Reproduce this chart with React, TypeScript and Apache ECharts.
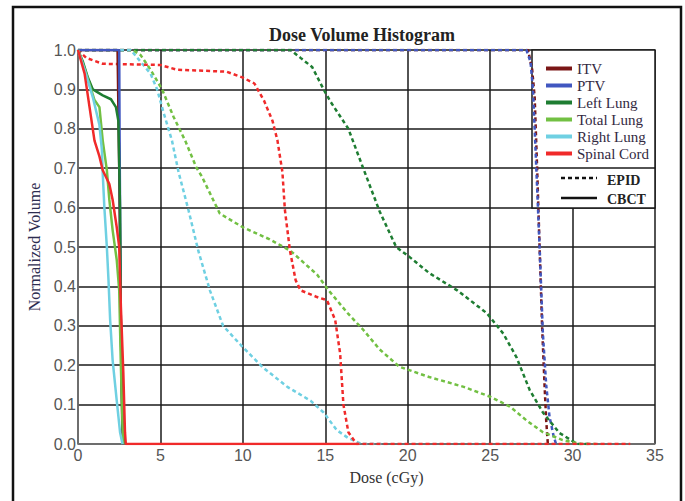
import React, { useEffect, useRef } from "react";
import * as echarts from "echarts";

const structures = ["ITV", "PTV", "Left Lung", "Total Lung", "Right Lung", "Spinal Cord"];
const structureColors = ["#7a1616", "#4157c0", "#1e7d32", "#72c043", "#6fd0e2", "#f02a2a"];
const methods = ["EPID", "CBCT"];

const xTicks = [0, 5, 10, 15, 20, 25, 30, 35];
const yTicks = [0, 0.1, 0.2, 0.3, 0.4, 0.5, 0.6, 0.7, 0.8, 0.9, 1.0];

// EPID (dotted) curves: [dose cGy, normalized volume]
const itvEpid = [[0, 1], [27.3, 1], [27.55, 0.95], [27.7, 0.88], [27.85, 0.7], [28.0, 0.5], [28.15, 0.3], [28.3, 0.15], [28.4, 0.06], [28.5, 0]];
const ptvEpid = [[0, 1], [27.2, 1], [27.45, 0.97], [27.6, 0.9], [27.8, 0.7], [28.0, 0.5], [28.2, 0.28], [28.4, 0.15], [28.6, 0.07], [28.85, 0.02], [29.0, 0]];
const leftLungEpid = [[0, 1], [12.9, 1], [13.5, 0.98], [14.2, 0.957], [14.9, 0.9], [15.3, 0.87], [16.4, 0.8], [17.3, 0.7], [18.3, 0.59], [19.3, 0.5], [20.1, 0.475], [21.3, 0.434], [23.0, 0.39], [24.8, 0.332], [25.8, 0.28], [26.6, 0.22], [27.4, 0.137], [28.2, 0.08], [29.2, 0.028], [30.3, 0], [31, 0]];
const totalLungEpid = [[0, 1], [3.3, 1], [3.8, 0.987], [4.4, 0.95], [5.1, 0.9], [5.8, 0.83], [6.5, 0.77], [7.2, 0.7], [7.5, 0.68], [8.6, 0.585], [10.0, 0.55], [11.6, 0.52], [12.9, 0.49], [14.5, 0.43], [15.2, 0.39], [16.4, 0.33], [17.3, 0.29], [18.3, 0.24], [19.5, 0.196], [21.3, 0.17], [23.4, 0.145], [25.0, 0.12], [26.2, 0.095], [27.2, 0.06], [28.2, 0.03], [29.4, 0.01], [30.5, 0], [31.4, 0]];
const rightLungEpid = [[0, 1], [3.2, 1], [3.6, 0.98], [4.4, 0.94], [4.8, 0.9], [5.2, 0.84], [5.7, 0.77], [6.1, 0.69], [6.7, 0.594], [7.3, 0.49], [8.0, 0.39], [8.8, 0.3], [9.9, 0.25], [11.2, 0.195], [12.7, 0.145], [14.1, 0.11], [14.9, 0.08], [15.7, 0.035], [16.4, 0.015], [17.2, 0], [18.4, 0]];
const spinalCordEpid = [[0, 1], [0.5, 0.98], [1.5, 0.965], [5, 0.962], [6, 0.95], [9, 0.945], [10, 0.93], [10.7, 0.915], [11.3, 0.87], [11.8, 0.82], [12.1, 0.77], [12.4, 0.69], [12.55, 0.594], [12.86, 0.49], [13.2, 0.416], [13.5, 0.39], [14.5, 0.373], [15.1, 0.365], [15.6, 0.315], [15.9, 0.23], [16.1, 0.1], [16.4, 0.03], [16.9, 0], [33.5, 0]];

// CBCT (solid) curves
const itvCbct = [[0, 1], [2.4, 1], [2.5, 0.7], [2.6, 0.3], [2.7, 0]];
const ptvCbct = [[0, 1], [2.5, 1], [2.52, 0.8], [2.55, 0.6], [2.6, 0.3], [2.7, 0.05], [2.75, 0]];
const leftLungCbct = [[0, 1], [0.3, 0.97], [0.6, 0.93], [0.9, 0.9], [1.5, 0.885], [2.0, 0.875], [2.3, 0.855], [2.45, 0.82], [2.55, 0.6], [2.6, 0.3], [2.7, 0.05], [2.8, 0]];
const totalLungCbct = [[0, 1], [0.5, 0.94], [1.0, 0.873], [1.3, 0.855], [1.5, 0.77], [1.75, 0.695], [1.9, 0.62], [2.1, 0.543], [2.35, 0.467], [2.5, 0.39], [2.6, 0.2], [2.7, 0.05], [2.75, 0]];
const rightLungCbct = [[0, 1], [0.4, 0.95], [0.9, 0.88], [1.3, 0.81], [1.45, 0.746], [1.5, 0.687], [1.6, 0.6], [1.75, 0.5], [1.85, 0.416], [1.95, 0.315], [2.1, 0.213], [2.35, 0.11], [2.55, 0.03], [2.7, 0]];
const spinalCordCbct = [[0, 1], [0.4, 0.94], [0.7, 0.855], [1.0, 0.77], [1.3, 0.73], [1.5, 0.695], [1.9, 0.66], [2.1, 0.62], [2.35, 0.55], [2.5, 0.5], [2.6, 0.35], [2.75, 0.18], [2.85, 0.03], [2.9, 0], [17, 0]];

const epidData = [itvEpid, ptvEpid, leftLungEpid, totalLungEpid, rightLungEpid, spinalCordEpid];
const cbctData = [itvCbct, ptvCbct, leftLungCbct, totalLungCbct, rightLungCbct, spinalCordCbct];

const SERIF = "'Liberation Serif', 'Times New Roman', serif";
const SANS = "'Liberation Sans', Arial, sans-serif";

export default function App() {
  const ref = useRef<HTMLDivElement>(null);
  useEffect(() => {
    if (!ref.current) return;
    const chart = echarts.init(ref.current, null, { renderer: "svg" });

    const series: any[] = [];
    structures.forEach((name, i) => {
      series.push({
        name: name + " " + methods[0],
        type: "line",
        data: epidData[i],
        showSymbol: false,
        symbol: "none",
        z: 5,
        color: structureColors[i],
        lineStyle: { color: structureColors[i], width: 2.5, type: [4, 3] },
      });
    });
    structures.forEach((name, i) => {
      series.push({
        name: name,
        type: "line",
        data: cbctData[i],
        showSymbol: false,
        symbol: "none",
        z: 6,
        color: structureColors[i],
        lineStyle: { color: structureColors[i], width: 2.5, type: "solid" },
      });
    });

    const option: any = {
      animation: false,
      backgroundColor: "#ffffff",
      title: {
        text: "Dose Volume Histogram",
        left: 264,
        top: 21,
        textStyle: { fontFamily: SERIF, fontWeight: "bold", fontSize: 18, color: "#222" },
      },
      grid: { left: 78, top: 50, right: 30, bottom: 57, containLabel: false },
      xAxis: {
        type: "value",
        min: xTicks[0],
        max: xTicks[xTicks.length - 1],
        interval: 5,
        name: "Dose (cGy)",
        nameLocation: "middle",
        nameGap: 25,
        nameTextStyle: { fontFamily: SERIF, fontSize: 16, color: "#333", padding: [0, 0, 0, 40] },
        axisLine: { show: true, lineStyle: { color: "#777", width: 1.5 } },
        axisTick: { show: false },
        axisLabel: { fontFamily: SANS, fontSize: 16, color: "#555", margin: 3 },
        splitLine: { show: true, lineStyle: { color: "#1a1a1a", width: 1.5 } },
      },
      yAxis: {
        type: "value",
        min: yTicks[0],
        max: yTicks[yTicks.length - 1],
        interval: 0.1,
        name: "Normalized Volume",
        nameLocation: "middle",
        nameGap: 35,
        nameTextStyle: { fontFamily: SERIF, fontSize: 16, color: "#2d2d50" },
        axisLine: { show: true, lineStyle: { color: "#777", width: 1.5 } },
        axisTick: { show: false },
        axisLabel: {
          fontFamily: SANS,
          fontSize: 16,
          color: "#555",
          margin: 2,
          formatter: (v: number) => v.toFixed(1),
        },
        splitLine: { show: true, lineStyle: { color: "#1a1a1a", width: 1.5 } },
      },
      legend: {
        data: structures,
        orient: "vertical",
        left: 541,
        top: 56,
        itemWidth: 26,
        itemHeight: 4,
        itemGap: 2,
        icon: "rect",
        selectedMode: false,
        z: 10,
        textStyle: { fontFamily: SERIF, fontSize: 15, color: "#33293f", lineHeight: 14 },
      },
      graphic: [
        {
          type: "rect",
          z: 1,
          shape: { x: 13, y: 7, width: 668, height: 540 },
          style: { fill: "none", stroke: "#111", lineWidth: 2.5 },
        },
        {
          type: "rect",
          z: 3,
          shape: { x: 532, y: 50, width: 123, height: 158 },
          style: { fill: "#ffffff", stroke: "#1a1a1a", lineWidth: 1.5 },
        },
        {
          type: "line",
          z: 3,
          shape: { x1: 532, y1: 168, x2: 655, y2: 168 },
          style: { stroke: "#1a1a1a", lineWidth: 1.5 },
        },
        {
          type: "line",
          z: 4,
          shape: { x1: 561, y1: 178, x2: 597, y2: 178 },
          style: { stroke: "#111", lineWidth: 2.5, lineDash: [4, 3] },
        },
        {
          type: "line",
          z: 4,
          shape: { x1: 561, y1: 198, x2: 597, y2: 198 },
          style: { stroke: "#111", lineWidth: 2.5 },
        },
        {
          type: "text",
          z: 4,
          x: 607,
          y: 180,
          style: { text: methods[0], font: "bold 14px " + SERIF, fill: "#222", textVerticalAlign: "middle" },
        },
        {
          type: "text",
          z: 4,
          x: 607,
          y: 199,
          style: { text: methods[1], font: "bold 14px " + SERIF, fill: "#222", textVerticalAlign: "middle" },
        },
      ],
      series,
    };
    chart.setOption(option);
    return () => chart.dispose();
  }, []);
  return (
    <div
      ref={ref}
      style={{ position: "absolute", left: 0, top: 0, width: 685, height: 501 }}
    />
  );
}
